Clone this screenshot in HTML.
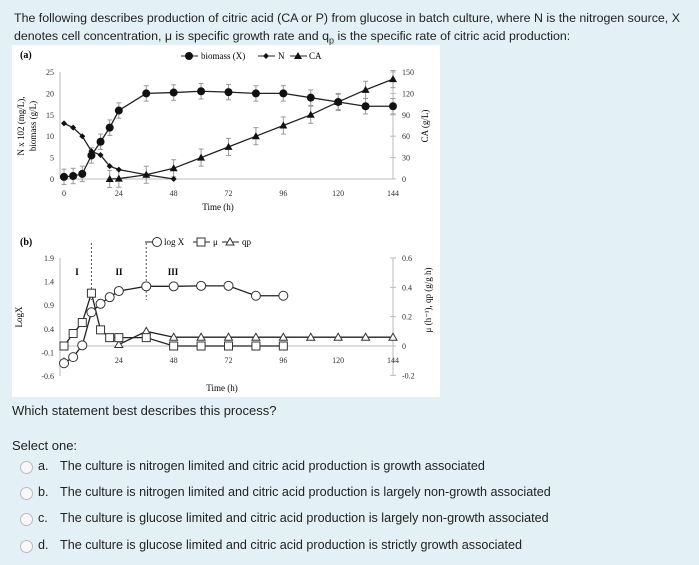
<!DOCTYPE html>
<html><head><meta charset="utf-8"><style>
body{margin:0;width:699px;height:565px;background:#e3f0f5;font-family:"Liberation Sans",Arial,sans-serif;color:#222;position:relative;overflow:hidden}
.t{position:absolute;font-size:13px;white-space:nowrap}
.opt{position:absolute;left:0;font-size:12.6px;white-space:nowrap}
.rad{position:absolute;left:20px;width:11px;height:11px;border-radius:50%;border:1px solid #bbb;background:#f8f8f8}
.let{position:absolute;left:38px}
.txt{position:absolute;left:60px}
svg text{font-family:"Liberation Serif",serif}
</style></head><body>
<div class="t" style="left:14px;top:9px;line-height:18px;font-size:12.4px">The following describes production of citric acid (CA or P) from glucose in batch culture, where N is the nitrogen source, X<br>denotes cell concentration, μ is specific growth rate and q<sub style="font-size:9px">p</sub> is the specific rate of citric acid production:</div>
<svg id="chart" width="699" height="400" style="position:absolute;left:0;top:0">
<rect x="12" y="45" width="428" height="352" fill="#fff"/>
<g id="ga"></g><g id="gb"></g>
</svg>
<div class="t" style="left:12px;top:403px">Which statement best describes this process?</div>
<div class="t" style="left:12px;top:438px">Select one:</div>
<div class="opt" style="top:459px"><span class="rad" style="top:2px"></span><span class="let">a.</span><span class="txt">The culture is nitrogen limited and citric acid production is growth associated</span></div>
<div class="opt" style="top:485px"><span class="rad" style="top:2px"></span><span class="let">b.</span><span class="txt">The culture is nitrogen limited and citric acid production is largely non-growth associated</span></div>
<div class="opt" style="top:511px"><span class="rad" style="top:2px"></span><span class="let">c.</span><span class="txt">The culture is glucose limited and citric acid production is largely non-growth associated</span></div>
<div class="opt" style="top:538px"><span class="rad" style="top:2px"></span><span class="let">d.</span><span class="txt">The culture is glucose limited and citric acid production is strictly growth associated</span></div>
<script>
const timeTicks=[0,24,48,72,96,120,144];
const bioT=[0,4,8,12,16,20,24,36,48,60,72,84,96,108,120,132,144];
const bioV=[0.5,0.7,1.2,5.5,8.7,12,16,20,20.2,20.5,20.3,20,20,19,18,17,17];
const nT=[0,4,8,12,16,20,24,36,48];
const nV=[13,12,10,6.5,5.6,3,2.2,1,0];
const caT=[20,24,36,48,60,72,84,96,108,120,132,144];
const caV=[0,0.5,6,15,30,45,60,75,90,108,125,140];
const leftTicksA=[0,5,10,15,20,25];
const rightTicksA=[0,30,60,90,120,150];
const logT=[0,4,8,12,16,20,24,36,48,60,72,84,96];
const logV=[-0.33,-0.2,0.05,0.75,0.93,1.07,1.2,1.3,1.3,1.31,1.31,1.1,1.1];
const muT=[0,4,8,12,16,20,24,36,48,60,72,84,96];
const muV=[0,0.085,0.16,0.36,0.11,0.057,0.057,0.057,0,0,0,0,0];
const qpT=[24,36,48,60,72,84,96,108,120,132,144];
const qpV=[0.01,0.1,0.06,0.06,0.06,0.06,0.06,0.06,0.06,0.06,0.06];
const leftTicksB=[-0.6,-0.1,0.4,0.9,1.4,1.9];
const rightTicksB=[-0.2,0,0.2,0.4,0.6];
const NS='http://www.w3.org/2000/svg';
function el(p,tag,a,txt){const e=document.createElementNS(NS,tag);for(const k in a)e.setAttribute(k,a[k]);if(txt!==undefined)e.textContent=txt;p.appendChild(e);return e;}
const X=t=>64+t*(393-64)/144;
// chart a
const ga=document.getElementById('ga');
const yA=v=>179-v*(179-72)/25, yCA=v=>179-v*(179-72)/150;
el(ga,'line',{x1:64,y1:179,x2:393,y2:179,stroke:'#bbb'});
el(ga,'line',{x1:393,y1:72,x2:393,y2:179,stroke:'#bbb'});
el(ga,'line',{x1:60,y1:72,x2:60,y2:179,stroke:'#bbb'});
timeTicks.forEach(t=>{const e=el(ga,'text',{x:X(t),y:196,'font-size':8,'text-anchor':'middle',fill:'#333'},t);});
leftTicksA.forEach(v=>{const e=el(ga,'text',{x:54,y:yA(v)+3,'font-size':8,'text-anchor':'end',fill:'#333'},v);});
rightTicksA.forEach(v=>{el(ga,'line',{x1:390,y1:yCA(v),x2:396,y2:yCA(v),stroke:'#bbb'});const e=el(ga,'text',{x:402,y:yCA(v)+3,'font-size':8,fill:'#333'},v);});
function series(g,T,V,xs,ys,mk,err,name){
  const pts=T.map((t,i)=>[xs(t),ys(V[i])]);
  const pl=el(g,'polyline',{points:pts.map(p=>p.join(',')).join(' '),fill:'none',stroke:'#222','stroke-width':1.3});
  
  pts.forEach((p,i)=>{
    if(err){const e1=ys(V[i]+err),e2=ys(V[i]-err);el(g,'line',{x1:p[0],y1:e1,x2:p[0],y2:e2,stroke:'#999'});el(g,'line',{x1:p[0]-2.5,y1:e1,x2:p[0]+2.5,y2:e1,stroke:'#999'});el(g,'line',{x1:p[0]-2.5,y1:e2,x2:p[0]+2.5,y2:e2,stroke:'#999'});}
    const m=mk(g,p[0],p[1]);
  });
}
const fc=(g,x,y)=>el(g,'circle',{cx:x,cy:y,r:4,fill:'#111'});
const fd=(g,x,y)=>el(g,'path',{d:`M${x} ${y-3}L${x+3} ${y}L${x} ${y+3}L${x-3} ${y}Z`,fill:'#111'});
const ft=(g,x,y)=>el(g,'path',{d:`M${x} ${y-4}L${x+4} ${y+3}L${x-4} ${y+3}Z`,fill:'#111'});
const oc=(g,x,y)=>el(g,'circle',{cx:x,cy:y,r:4.5,fill:'#fff',stroke:'#333'});
const os=(g,x,y)=>el(g,'rect',{x:x-4,y:y-4,width:8,height:8,fill:'#fff',stroke:'#333'});
const ot=(g,x,y)=>el(g,'path',{d:`M${x} ${y-4}L${x+4} ${y+3}L${x-4} ${y+3}Z`,fill:'#fff',stroke:'#333'});
series(ga,caT,caV,X,yCA,ft,12,'ca');
series(ga,bioT,bioV,X,yA,fc,1.8,'biomass');
series(ga,nT,nV,X,yA,fd,0,'nitrogen');
el(ga,'text',{x:20,y:58,'font-size':10,'font-weight':'bold','font-family':'Liberation Sans'},'(a)');
el(ga,'text',{x:218,y:210,'font-size':9,'text-anchor':'middle'},'Time (h)');
el(ga,'text',{transform:'translate(24,126) rotate(-90)','font-size':9,'text-anchor':'middle'},'N x 102 (mg/L),');
el(ga,'text',{transform:'translate(36,126) rotate(-90)','font-size':9,'text-anchor':'middle'},'biomass (g/L)');
el(ga,'text',{transform:'translate(428,126) rotate(-90)','font-size':9,'text-anchor':'middle'},'CA (g/L)');
// legend a
el(ga,'line',{x1:181,y1:56,x2:198,y2:56,stroke:'#222'});fc(ga,189,56);el(ga,'text',{x:201,y:59,'font-size':9},'biomass (X)');
el(ga,'line',{x1:258,y1:56,x2:275,y2:56,stroke:'#222'});fd(ga,266,56);el(ga,'text',{x:278,y:59,'font-size':9},'N');
el(ga,'line',{x1:290,y1:56,x2:307,y2:56,stroke:'#222'});ft(ga,298,56);el(ga,'text',{x:309,y:59,'font-size':9},'CA');
// chart b
const gb=document.getElementById('gb');
const yL=v=>258+(1.9-v)*(376-258)/2.5, yR=v=>346-v*(346-258)/0.6;
el(gb,'line',{x1:60,y1:258,x2:60,y2:376,stroke:'#bbb'});
el(gb,'line',{x1:393,y1:258,x2:393,y2:376,stroke:'#bbb'});
el(gb,'line',{x1:64,y1:346,x2:393,y2:346,stroke:'#bbb'});
timeTicks.forEach(t=>{const e=el(gb,'text',{x:X(t),y:363,'font-size':8,'text-anchor':'middle',fill:'#333'},t);});
leftTicksB.forEach(v=>{const e=el(gb,'text',{x:54,y:yL(v)+3,'font-size':8,'text-anchor':'end',fill:'#333'},v);});
rightTicksB.forEach(v=>{el(gb,'line',{x1:390,y1:yR(v),x2:396,y2:yR(v),stroke:'#bbb'});const e=el(gb,'text',{x:402,y:yR(v)+3,'font-size':8,fill:'#333'},v);});
el(gb,'line',{x1:X(12),y1:243,x2:X(12),y2:300,stroke:'#555','stroke-dasharray':'2,2'});
el(gb,'line',{x1:X(36),y1:243,x2:X(36),y2:300,stroke:'#555','stroke-dasharray':'2,2'});
series(gb,qpT,qpV,X,yR,ot,0,'qp');
series(gb,muT,muV,X,yR,os,0,'mu');
series(gb,logT,logV,X,yL,oc,0,'logx');
[['I',77],['II',119],['III',173]].forEach(a=>el(gb,'text',{x:a[1],y:275,'font-size':9,'font-weight':'bold','text-anchor':'middle','font-family':'Liberation Sans'},a[0]));
el(gb,'text',{x:20,y:245,'font-size':10,'font-weight':'bold','font-family':'Liberation Sans'},'(b)');
el(gb,'text',{x:222,y:391,'font-size':9,'text-anchor':'middle'},'Time (h)');
el(gb,'text',{transform:'translate(22,317) rotate(-90)','font-size':9,'text-anchor':'middle'},'LogX');
el(gb,'text',{transform:'translate(431,300) rotate(-90)','font-size':9,'text-anchor':'middle'},'μ (h⁻¹), qp (g/g h)');
el(gb,'line',{x1:145,y1:242,x2:157,y2:242,stroke:'#222'});oc(gb,157,242);el(gb,'text',{x:164,y:245,'font-size':9},'log X');
el(gb,'line',{x1:193,y1:242,x2:210,y2:242,stroke:'#222'});os(gb,201,242);el(gb,'text',{x:213,y:245,'font-size':9},'μ');
el(gb,'line',{x1:222,y1:242,x2:239,y2:242,stroke:'#222'});ot(gb,230,242);el(gb,'text',{x:242,y:245,'font-size':9},'qp');
</script>
</body></html>
